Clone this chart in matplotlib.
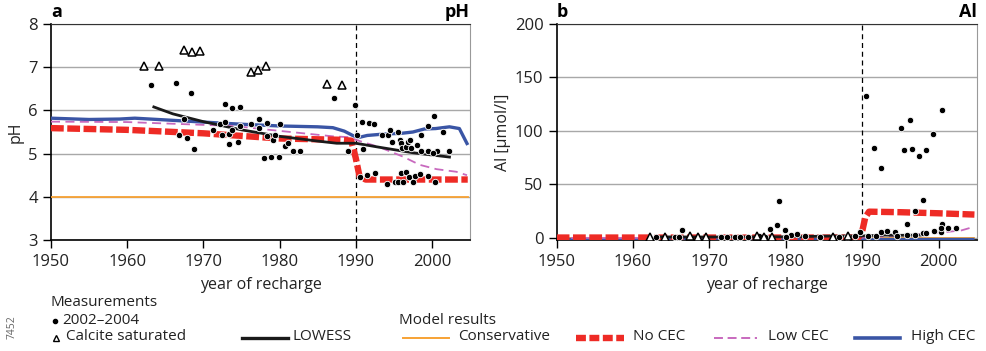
import matplotlib.pyplot as plt
from matplotlib.lines import Line2D

plt.rcParams['font.family'] = ['Open Sans', 'DejaVu Sans']
plt.rcParams['font.size'] = 11

# ---- panel a: pH ----
ph_meas_year = [1963.1, 1966.4, 1968.4, 1967.4, 1966.8, 1967.8, 1968.8, 1971.3, 1972.2, 1972.8,
                1972.8, 1972.4, 1973.4, 1973.3, 1973.8, 1973.8, 1974.8, 1974.5, 1974.8, 1976.3,
                1977.3, 1977.3, 1978.3, 1978.3, 1977.9, 1978.9, 1979.9, 1979.1, 1979.4, 1980.0,
                1980.7, 1981.1, 1981.7, 1982.7, 1987.2, 1989.9, 1989.0, 1990.1, 1990.8, 1991.8,
                1992.4, 1991.0, 1990.5, 1991.5, 1992.5, 1993.4, 1994.2, 1994.5, 1994.8, 1995.5,
                1995.8, 1995.9, 1996.1, 1996.6, 1996.9, 1997.1, 1997.2, 1998.0, 1998.5, 1998.6,
                1999.5, 1999.5, 2000.3, 2000.6, 2000.1, 2001.4, 2002.3, 1994.1, 1995.1, 1995.5,
                1996.2, 1996.0, 1996.6, 1997.0, 1997.5, 1997.8, 1998.4, 1999.5, 2000.4]
ph_meas = [6.59, 6.63, 6.40, 5.80, 5.43, 5.37, 5.10, 5.55, 5.69, 6.15,
           5.74, 5.43, 5.23, 5.45, 5.55, 6.05, 6.09, 5.28, 5.64, 5.68,
           5.80, 5.60, 5.72, 5.40, 4.89, 4.91, 4.92, 5.32, 5.42, 5.69,
           5.18, 5.24, 5.06, 5.05, 6.28, 6.13, 5.06, 5.42, 5.73, 5.72,
           5.68, 5.10, 4.45, 4.51, 4.55, 5.43, 5.43, 5.55, 5.28, 5.51,
           5.32, 5.24, 5.14, 5.16, 5.28, 5.32, 5.12, 5.19, 5.43, 5.07,
           5.05, 5.65, 5.87, 5.07, 5.01, 5.49, 5.07, 4.29, 4.35, 4.35,
           4.35, 4.55, 4.58, 4.47, 4.35, 4.48, 4.52, 4.49, 4.35]

calcite_year = [1962.2, 1964.2, 1967.5, 1968.5, 1969.5, 1976.2, 1977.2, 1978.2, 1986.2, 1988.2]
calcite_ph = [7.03, 7.03, 7.40, 7.35, 7.37, 6.90, 6.94, 7.02, 6.62, 6.58]
calcite_al = [1.2, 1.0, 1.3, 1.1, 1.2, 1.4, 1.2, 1.0, 1.1, 1.3]

lowess_ph_year = [1963.5, 1966, 1970, 1975, 1980, 1985, 1987.5, 1990, 1993, 1997.5, 2002.3]
lowess_ph = [6.08, 5.92, 5.74, 5.55, 5.40, 5.29, 5.24, 5.24, 5.15, 5.02, 4.92]

cons_year = [1950, 2004.7]
cons_ph = [4.0, 4.0]

nocec_ph_year = [1950, 1960, 1970, 1980, 1988, 1989.4, 1990.0, 1990.5, 1991.3, 2004.7]
nocec_ph = [5.59, 5.55, 5.47, 5.35, 5.32, 5.30, 4.90, 4.47, 4.40, 4.40]

lowcec_ph_year = [1950, 1960, 1974, 1978.7, 1987, 1989.2, 1990, 1993.1, 1996.2, 1998.4, 2000.6, 2003.2, 2004.6]
lowcec_ph = [5.74, 5.73, 5.64, 5.55, 5.40, 5.38, 5.32, 5.15, 4.93, 4.74, 4.64, 4.58, 4.50]

highcec_ph_year = [1950, 1955, 1959, 1961, 1965, 1970, 1975, 1980, 1985, 1987, 1988.5, 1989.6,
                   1990.3, 1991.5, 1993.5, 1996, 1997.5, 1999, 2000.5, 2002.3, 2003.6, 2004.7]
highcec_ph = [5.82, 5.79, 5.80, 5.82, 5.78, 5.73, 5.68, 5.64, 5.62, 5.60, 5.52, 5.42,
              5.37, 5.42, 5.45, 5.47, 5.50, 5.57, 5.58, 5.62, 5.58, 5.20]

# ---- panel b: Al ----
al_meas_year = [1990.5, 1991.5, 1992.5, 1995.1, 1995.5, 1996.2, 1996.5, 1997.5, 1998.4, 1997.9,
                1996.9, 1995.9, 1999.3, 2000.4, 2000.5, 1979.1, 1978.9, 1977.9, 1979.9, 1966.4,
                1980.7, 1981.5, 1982.5, 1989.7, 1990.8, 1991.8, 1992.4, 1993.3, 1994.3, 1994.6,
                1995.9, 1996.9, 1998.0, 1998.4, 1999.4, 2000.3, 2000.3, 2001.3, 2002.3,
                1963.0, 1965.5, 1966.0, 1971.5, 1972.3, 1973.3, 1974.0, 1975.0, 1976.5, 1977.3,
                1980.0, 1984.5, 1987.0, 1988.0, 1989.0]
al_meas = [132.6, 83.9, 65.5, 103.1, 82.0, 110.0, 82.9, 76.7, 82.3, 35.4,
           25.5, 13.0, 97.5, 119.6, 13.0, 34.8, 12.1, 8.4, 7.8, 7.4,
           3.1, 3.7, 1.6, 5.3, 2.2, 2.2, 5.3, 6.2, 5.3, 1.6,
           2.5, 2.5, 4.3, 4.3, 6.2, 5.3, 9.0, 9.0, 9.0,
           0.8, 1.0, 0.9, 0.5, 1.2, 0.8, 1.0, 0.6, 1.3, 0.9,
           0.7, 0.8, 1.0, 1.2, 1.5]

lowess_al_year = [1963.5, 1970, 1980, 1985, 1990, 1993, 1995, 1997.8]
lowess_al = [0.9, 0.8, 1.0, 1.6, 1.8, 2.6, 2.4, 2.6]

cons_al = [0.0, 0.0]

nocec_al_year = [1950, 1989.5, 1990.0, 1990.4, 1990.9, 1995, 2000, 2004.7]
nocec_al = [0.3, 0.3, 6.0, 19.0, 24.5, 24.0, 23.0, 21.8]

lowcec_al_year = [1950, 1989.5, 1991, 1994, 1997, 1999, 2001, 2003, 2004.7]
lowcec_al = [0.0, 0.0, 0.8, 1.8, 3.0, 4.5, 5.5, 7.0, 10.5]

highcec_al_year = [1950, 2004.7]
highcec_al = [-1.0, -1.0]

xticks = [1950, 1960, 1970, 1980, 1990, 2000]

C_RED = '#ee2b25'
C_VIOLET = '#c869be'
C_BLUE = '#3a55a5'
C_ORANGE = '#f7a234'
C_BLACK = '#1a1a1a'
RED_DASH = (0, (2.0, 0.55))
VIO_DASH = (0, (5, 3))

fig = plt.figure(figsize=(9.86, 3.51), dpi=100)
ax1 = fig.add_axes([0.0517, 0.3162, 0.4250, 0.6154])
ax2 = fig.add_axes([0.5646, 0.3162, 0.4260, 0.6154])


def style_axes(ax):
    ax.set_xlim(1950, 2005)
    ax.set_xticks(xticks)
    ax.grid(True, axis='y', color='#a8a8a8', lw=1)
    ax.grid(False, axis='x')
    ax.set_axisbelow(True)
    ax.set_facecolor('white')
    ax.spines['left'].set_color('black')
    ax.spines['bottom'].set_color('black')
    ax.spines['left'].set_linewidth(1.2)
    ax.spines['bottom'].set_linewidth(1.2)
    ax.spines['top'].set_color('#333333')
    ax.spines['right'].set_color('#999999')
    ax.tick_params(direction='out', length=6, width=1, labelsize=12, labelcolor='#222222')
    ax.tick_params(axis='x', pad=4)
    ax.set_xlabel('year of recharge', fontsize=11.5, color='#222222', labelpad=5)
    ax.axvline(1990, color='black', lw=0.9, ls=(0, (4, 3)), zorder=2)


def draw_panel(ax, cons, nocec_y, nocec, lowcec_y, lowcec, highcec_y, highcec,
               lowess_y, lowess, meas_y, meas, calc):
    ax.plot(cons_year, cons, color=C_ORANGE, lw=1.3, zorder=3)
    ax.plot(highcec_y, highcec, color=C_BLUE, lw=2.4, zorder=4, solid_capstyle='butt')
    ax.plot(lowcec_y, lowcec, color=C_VIOLET, lw=1.3, ls=VIO_DASH, zorder=5)
    ax.plot(nocec_y, nocec, color=C_RED, lw=4.6, ls=RED_DASH, zorder=6, dash_capstyle='butt')
    ax.plot(lowess_y, lowess, color=C_BLACK, lw=2.0, zorder=7)
    ax.plot(meas_y, meas, 'o', color='black', ms=4.6, mec='white', mew=0.6, zorder=8)
    ax.plot(calcite_year, calc, '^', mfc='white', mec='black', ms=5.2, mew=1.1, zorder=9)


style_axes(ax1)
draw_panel(ax1, cons_ph, nocec_ph_year, nocec_ph, lowcec_ph_year, lowcec_ph,
           highcec_ph_year, highcec_ph, lowess_ph_year, lowess_ph,
           ph_meas_year, ph_meas, calcite_ph)
ax1.set_ylim(3, 8)
ax1.set_yticks([3, 4, 5, 6, 7, 8])
ax1.set_ylabel('pH', fontsize=11.5, color='#222222', labelpad=3)
ax1.text(0.0, 1.015, 'a', transform=ax1.transAxes, fontsize=13, fontweight='bold', ha='left', va='bottom')
ax1.text(1.0, 1.015, 'pH', transform=ax1.transAxes, fontsize=13, fontweight='bold', ha='right', va='bottom')

style_axes(ax2)
draw_panel(ax2, cons_al, nocec_al_year, nocec_al, lowcec_al_year, lowcec_al,
           highcec_al_year, highcec_al, lowess_al_year, lowess_al,
           al_meas_year, al_meas, calcite_al)
ax2.set_ylim(-2, 200)
ax2.set_yticks([0, 50, 100, 150, 200])
ax2.set_ylabel('Al [µmol/l]', fontsize=11.5, color='#222222', labelpad=3)
ax2.text(0.0, 1.015, 'b', transform=ax2.transAxes, fontsize=13, fontweight='bold', ha='left', va='bottom')
ax2.text(1.0, 1.015, 'Al', transform=ax2.transAxes, fontsize=13, fontweight='bold', ha='right', va='bottom')

# ---- legend (figure coordinates, pixels converted) ----
W, H = 986.0, 351.0


def fx(px):
    return px / W


def fy(py):
    return 1 - py / H


def leg_line(x0, x1, y, **kw):
    fig.add_artist(Line2D([fx(x0), fx(x1)], [fy(y), fy(y)], transform=fig.transFigure, **kw))


def leg_text(x, y, s, **kw):
    fig.text(fx(x), fy(y), s, ha='left', va='center', fontsize=11, color='#222222', **kw)


leg_text(51, 303, 'Measurements')
fig.add_artist(Line2D([fx(55)], [fy(321)], marker='o', color='black', ms=3, ls='none',
                      transform=fig.transFigure))
leg_text(62, 320, '2002–2004')
fig.add_artist(Line2D([fx(56)], [fy(338)], marker='^', mfc='white', mec='black', ms=4.5,
                      mew=1, ls='none', transform=fig.transFigure))
leg_text(66, 337, 'Calcite saturated')

leg_line(242, 288, 338, color=C_BLACK, lw=2.4)
leg_text(292, 337, 'LOWESS')

leg_text(399, 320, 'Model results')
leg_line(403, 449, 338, color=C_ORANGE, lw=1.4)
leg_text(458, 337, 'Conservative')
leg_line(576, 624, 338, color=C_RED, lw=4.6, ls=(0, (1.55, 0.55)), dash_capstyle='butt')
leg_text(633, 337, 'No CEC')
leg_line(714, 757, 338, color=C_VIOLET, lw=1.4, ls=(0, (4.6, 2.4)))
leg_text(768, 337, 'Low CEC')
leg_line(855, 900, 338, color=C_BLUE, lw=2.6)
leg_text(911, 337, 'High CEC')

fig.text(fx(12), fy(327), '7452', rotation=90, fontsize=7.5, color='#666666', ha='center', va='center')

fig.savefig('out.png', dpi=100)
